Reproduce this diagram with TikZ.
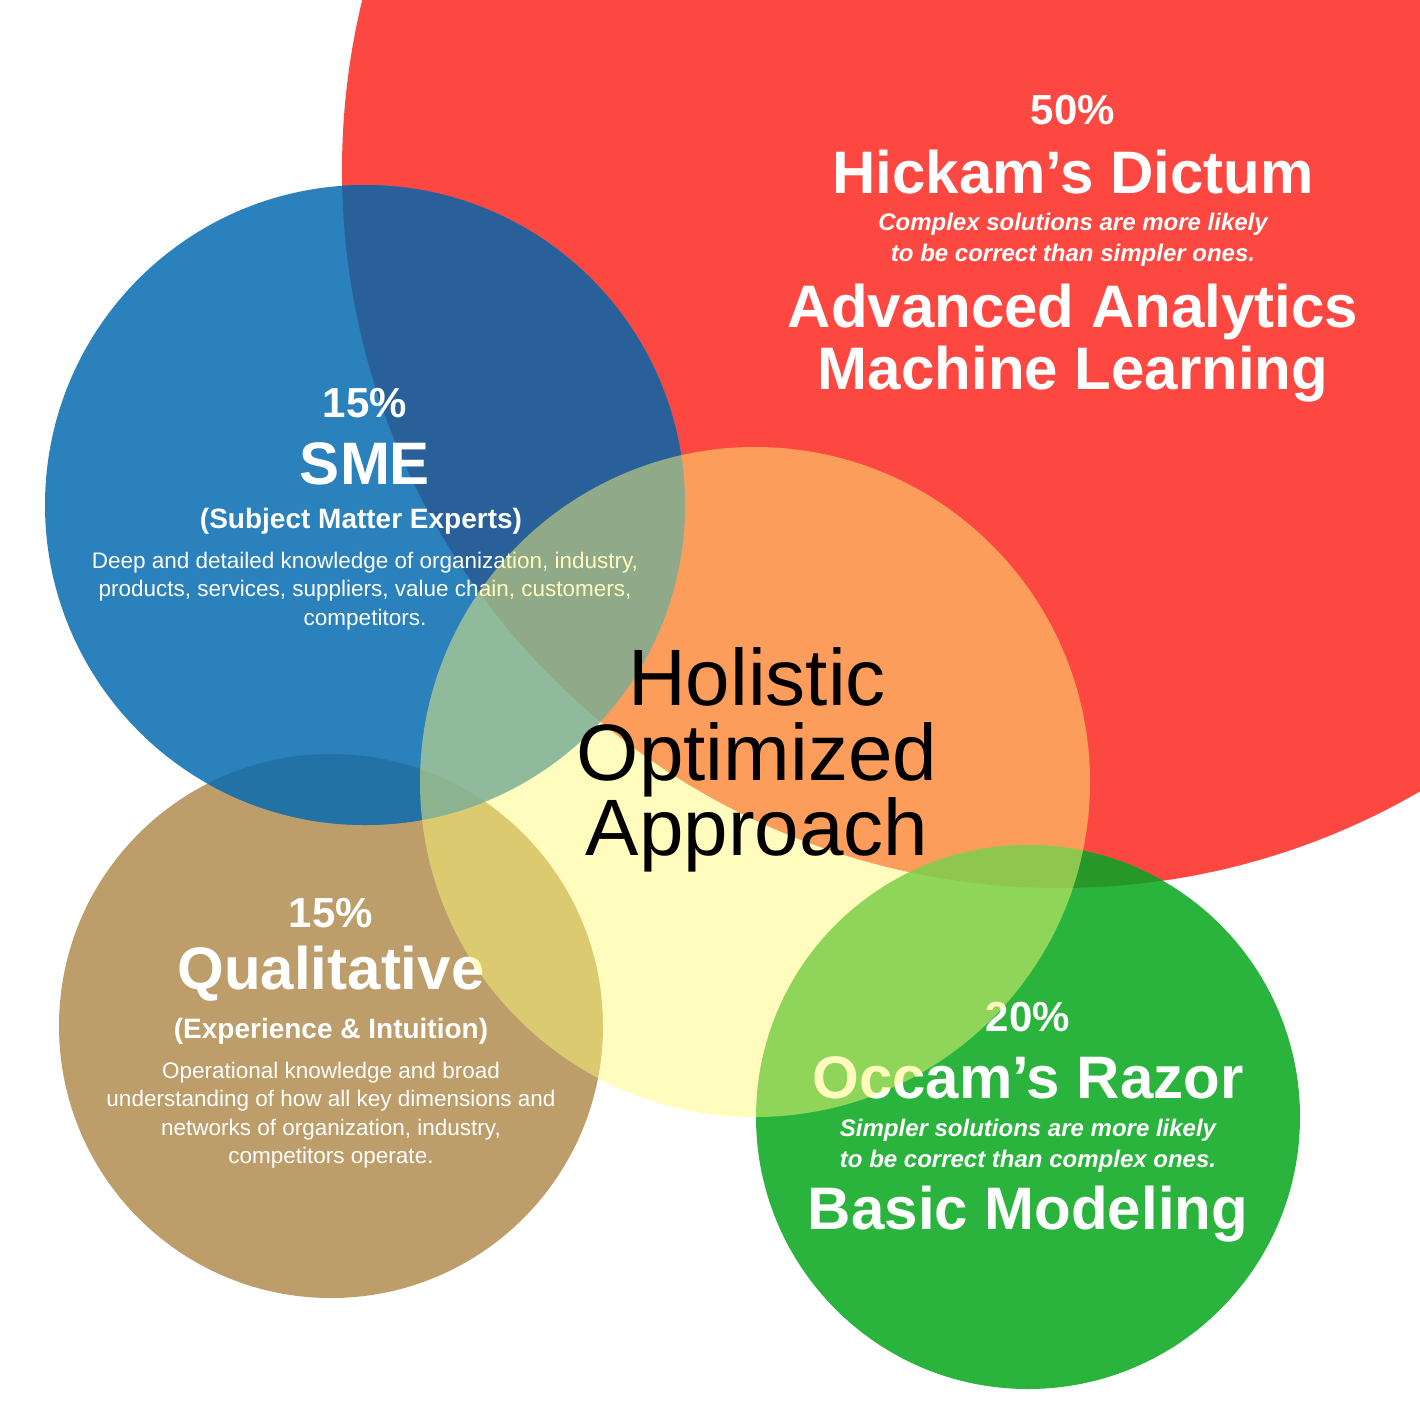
\documentclass[tikz,border=0pt]{standalone}
\usepackage{fontspec}
\setmainfont{Liberation Sans}
\definecolor{cred}{RGB}{252,72,65}
\definecolor{cblue}{RGB}{42,129,188}
\definecolor{cbrown}{RGB}{189,158,107}
\definecolor{cgreen}{RGB}{42,180,62}
\definecolor{cyel}{RGB}{255,250,120}
\definecolor{credblue}{RGB}{42,96,153}
\definecolor{cbluebrown}{RGB}{35,114,166}
\definecolor{credgreen}{RGB}{39,151,42}
\tikzset{
  big/.style={font=\fontsize{60}{66}\selectfont\bfseries, text=white, align=center},
  pct/.style={font=\fontsize{42}{48}\selectfont\bfseries, text=white},
  sub/.style={font=\fontsize{28}{32}\selectfont\bfseries, text=white},
  ital/.style={font=\fontsize{24}{31}\selectfont\bfseries\itshape, text=white, align=center},
  body/.style={font=\fontsize{22.5}{28.5}\selectfont, text=white, align=center},
  center/.style={font=\fontsize{80}{75}\selectfont, text=black, align=center}
}
\begin{document}
\begin{tikzpicture}[x=1pt,y=-1pt]
\useasboundingbox (0,0) rectangle (1420,1418);
\clip (0,0) rectangle (1420,1418);
\fill[white] (0,0) rectangle (1420,1418);
% base circles
\fill[cred] (1060,170) circle (718);
\fill[cbrown] (331,1026) circle (272);
\fill[cblue] (365,505) circle (320);
\fill[cgreen] (1028,1117) circle (272);
% overlaps
\begin{scope}\clip (1060,170) circle (718); \fill[credblue] (365,505) circle (320); \end{scope}
\begin{scope}\clip (331,1026) circle (272); \fill[cbluebrown] (365,505) circle (320); \end{scope}
\begin{scope}\clip (1060,170) circle (718); \fill[credgreen] (1028,1117) circle (272); \end{scope}
% texts
\node[pct] (p50) at (1073,110) {50\%};
\node[big] (hick) at (1073,172) {Hickam's Dictum};
\node[ital] (hicki) at (1073,240) {Complex solutions are more likely\\to be correct than simpler ones.};
\node[big] (adv) at (1073,343) {Advanced Analytics\\[-4pt]Machine Learning};
\node[pct] (p15a) at (365,403) {15\%};
\node[big] (sme) at (365,464) {SME};
\node[sub] (smes) at (361,521) {(Subject Matter Experts)};
\node[body] (smeb) at (365,591) {Deep and detailed knowledge of organization, industry,\\products, services, suppliers, value chain, customers,\\competitors.};
\node[pct] (p15b) at (331,913) {15\%};
\node[big] (qual) at (331,974) {Qualitative};
\node[sub] (quals) at (331,1031) {(Experience \& Intuition)};
\node[body] (qualb) at (331,1115) {Operational knowledge and broad\\understanding of how all key dimensions and\\networks of organization, industry,\\competitors operate.};
\node[pct] (p20) at (1028,1017) {20\%};
\node[big] (occ) at (1028,1078) {Occam's Razor};
\node[ital] (occi) at (1028,1146) {Simpler solutions are more likely\\to be correct than complex ones.};
\node[big] (basic) at (1028,1214) {Basic Modeling};
% yellow overlay
\fill[cyel, opacity=0.48] (755,782) circle (335);
\node[center] (hol) at (757,760) {Holistic\\Optimized\\Approach};
\end{tikzpicture}
\end{document}
